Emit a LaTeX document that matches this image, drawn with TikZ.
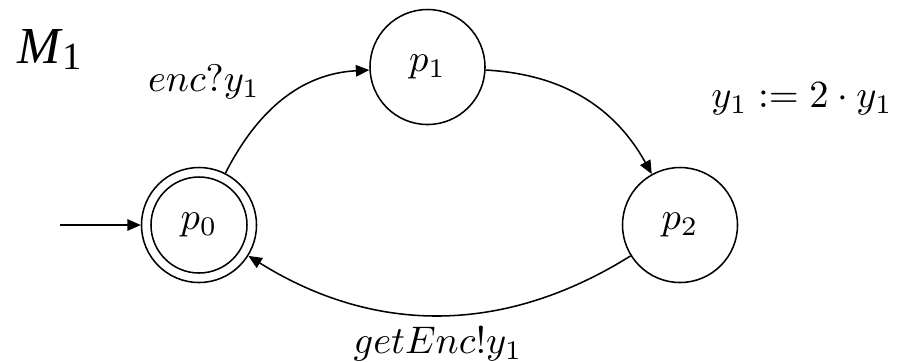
\documentclass[tikz,border=0pt]{standalone}
\usepackage{fontspec}
\newfontfamily\mfont{Liberation Serif}
\usetikzlibrary{arrows.meta}
\begin{document}
\begin{tikzpicture}[x=0.26pt,y=0.26pt,
  state/.style={draw, circle, line width=0.4pt, minimum size=29.9pt, inner sep=0pt},
  edge/.style={line width=0.4pt, -{Triangle[length=3.5pt,width=3pt]}},
  lbl/.style={inner sep=0pt}]
\useasboundingbox (0,0) rectangle (900,-361);
\node[state] (p0) at (199,-225) {$p_0$};
\draw[line width=0.4pt] (p0.center) circle (48);
\node[state] (p1) at (427.5,-67) {$p_1$};
\node[state] (p2) at (680,-225) {$p_2$};
\coordinate (start) at (60,-225);
\draw[edge] (start) -- (p0.west);
\draw[edge] (p0) to[out=63,in=183] (p1);
\draw[edge] (p1) to[out=-3,in=119] (p2);
\draw[edge] (p2) to[out=212,in=328] (p0);
\node[lbl] (l1) at (204,-82) {$enc?y_1$};
\node[lbl] (l2) at (802,-99) {$y_1 := 2\cdot y_1$};
\node[lbl] (l3) at (438,-344) {$getEnc!y_1$};
\node[lbl, anchor=base west] (m) at (17,-63) {\mfont\fontsize{13.5pt}{15pt}\selectfont\itshape M\kern0.3pt\raisebox{-1.8pt}{\fontsize{10pt}{11pt}\selectfont\upshape 1}};
\end{tikzpicture}
\end{document}
